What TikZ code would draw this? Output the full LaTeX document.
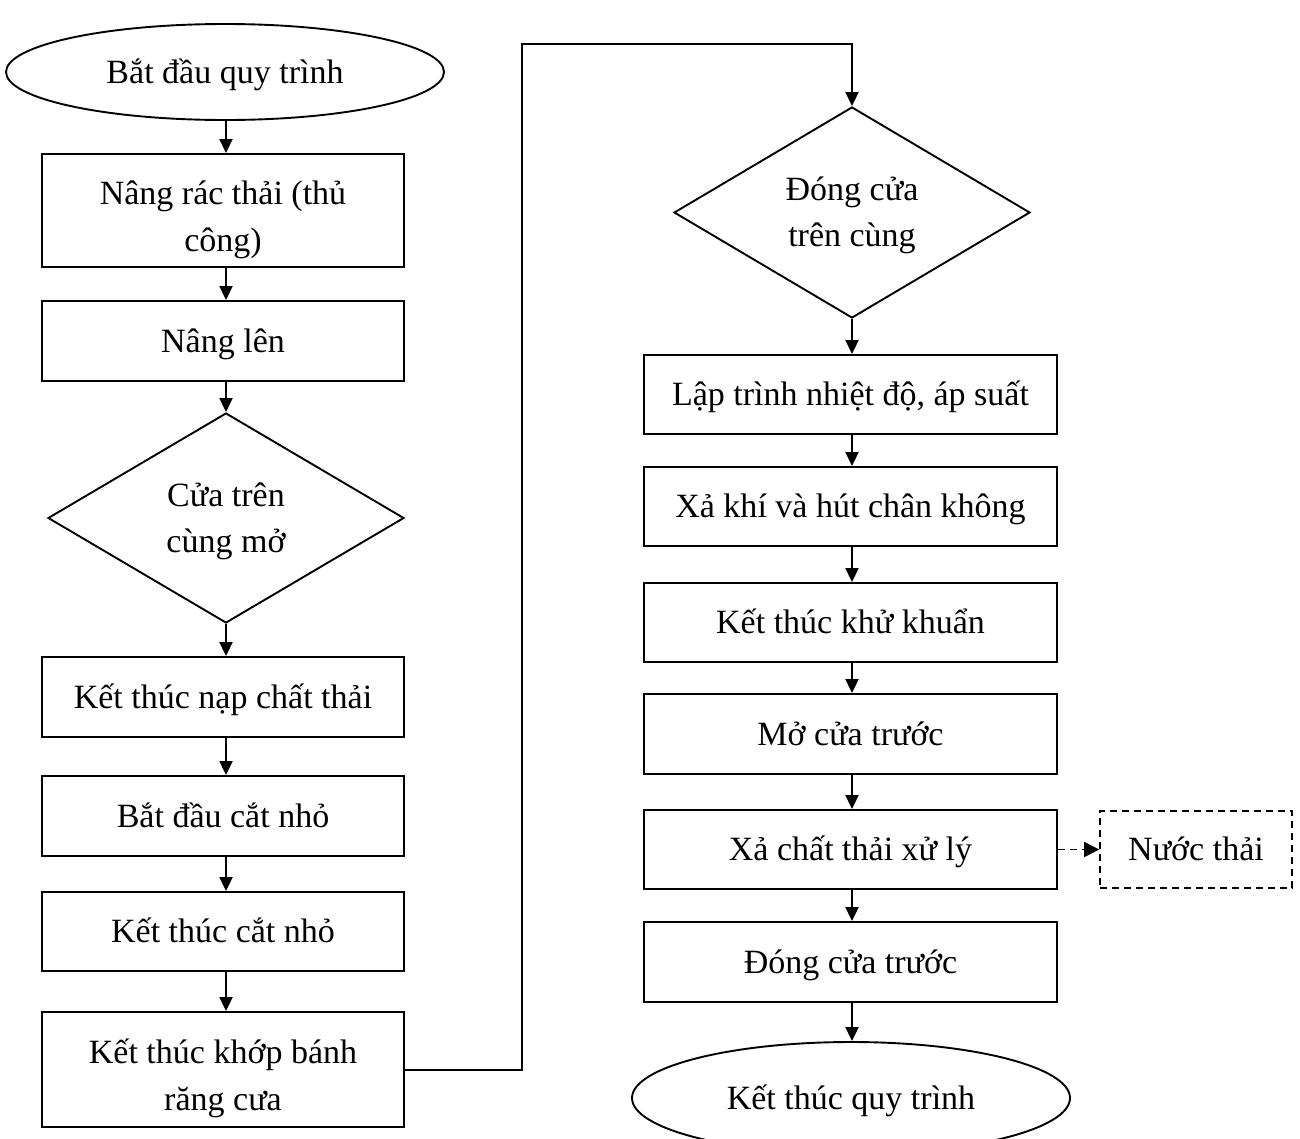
\documentclass[tikz,border=0pt]{standalone}
\usepackage{fontspec}
\setmainfont{Liberation Serif}
\usetikzlibrary{shapes.geometric,arrows.meta}
\newcommand\topstrut[1]{\rule{0pt}{#1}}
\newcommand\botstrut[1]{\rule[-#1]{0pt}{#1}}
\begin{document}
\begin{tikzpicture}[x=1pt,y=-1pt,
  every node/.style={font=\fontsize{34}{47}\selectfont, align=center, inner sep=0pt},
  one/.style={text height=33pt, text depth=11pt},
  box/.style={draw, line width=1.9pt, rectangle, minimum height=80pt},
  lbox/.style={box, minimum width=362pt},
  rbox/.style={box, minimum width=413pt},
  dec/.style={draw, line width=1.9pt, diamond, aspect=1.69, minimum width=356pt, minimum height=210pt, font=\fontsize{34}{46}\selectfont},
  term/.style={draw, line width=1.9pt, ellipse, one, minimum width=438pt, minimum height=#1},
  arr/.style={line width=1.9pt, -{Triangle[length=14pt,width=13pt]}},
  darr/.style={line width=1.6pt, dash pattern=on 7pt off 5pt, -{Triangle[length=15pt,width=15pt]}},
  dbox/.style={draw, line width=1.6pt, dash pattern=on 7pt off 5pt, rectangle, one, minimum width=192pt, minimum height=77pt}
]
\useasboundingbox (0,0) rectangle (1300,1138);
% left column
\node[term=96pt] (start) at (225,72) {Bắt đầu quy trình};
\node[lbox, minimum height=113pt] (b1) at (223,210.5) {\topstrut{42pt}Nâng rác thải (thủ\\công)\botstrut{8pt}};
\node[lbox, one] (b2) at (223,341) {Nâng lên};
\node[dec] (d1) at (226,518) {\topstrut{33pt}Cửa trên\\cùng mở\botstrut{11pt}};
\node[lbox, one] (b3) at (223,697) {Kết thúc nạp chất thải};
\node[lbox, one] (b4) at (223,816) {Bắt đầu cắt nhỏ};
\node[lbox, one, minimum height=79pt] (b5) at (223,931.5) {Kết thúc cắt nhỏ};
\node[lbox, minimum height=115pt] (b6) at (223,1069.5) {\topstrut{42pt}Kết thúc khớp bánh\\răng cưa\botstrut{8pt}};
% right column
\node[dec, minimum height=211pt] (d2) at (852,212.5) {\topstrut{33pt}Đóng cửa\\trên cùng\botstrut{11pt}};
\node[rbox, one, minimum height=79pt] (r1) at (850.5,394.5) {Lập trình nhiệt độ, áp suất};
\node[rbox, one, minimum height=79pt] (r2) at (850.5,506.5) {Xả khí và hút chân không};
\node[rbox, one, minimum height=79pt] (r3) at (850.5,622.5) {Kết thúc khử khuẩn};
\node[rbox, one] (r4) at (850.5,734) {Mở cửa trước};
\node[rbox, one, minimum height=79pt] (r5) at (850.5,849.5) {Xả chất thải xử lý};
\node[rbox, one] (r6) at (850.5,962) {Đóng cửa trước};
\node[term=112pt] (end) at (851,1098) {Kết thúc quy trình};
\node[dbox] (w) at (1196,849.5) {Nước thải};
% connectors
\draw[arr] (start.south -| 226,0) -- (b1.north -| 226,0);
\draw[arr] (b1.south -| 226,0) -- (b2.north -| 226,0);
\draw[arr] (b2.south -| 226,0) -- (d1.north);
\draw[arr] (d1.south) -- (b3.north -| 226,0);
\draw[arr] (b3.south -| 226,0) -- (b4.north -| 226,0);
\draw[arr] (b4.south -| 226,0) -- (b5.north -| 226,0);
\draw[arr] (b5.south -| 226,0) -- (b6.north -| 226,0);
\coordinate (c1) at (522,1070);
\coordinate (c2) at (522,44);
\coordinate (c3) at (852,44);
\draw[arr] (b6.east |- c1) -- (c1) -- (c2) -- (c3) -- (d2.north);
\draw[arr] (d2.south) -- (r1.north -| 852,0);
\draw[arr] (r1.south -| 852,0) -- (r2.north -| 852,0);
\draw[arr] (r2.south -| 852,0) -- (r3.north -| 852,0);
\draw[arr] (r3.south -| 852,0) -- (r4.north -| 852,0);
\draw[arr] (r4.south -| 852,0) -- (r5.north -| 852,0);
\draw[arr] (r5.south -| 852,0) -- (r6.north -| 852,0);
\draw[arr] (r6.south -| 852,0) -- (end.north -| 852,0);
\draw[darr] (r5.east) -- (w.west);
\end{tikzpicture}
\end{document}
